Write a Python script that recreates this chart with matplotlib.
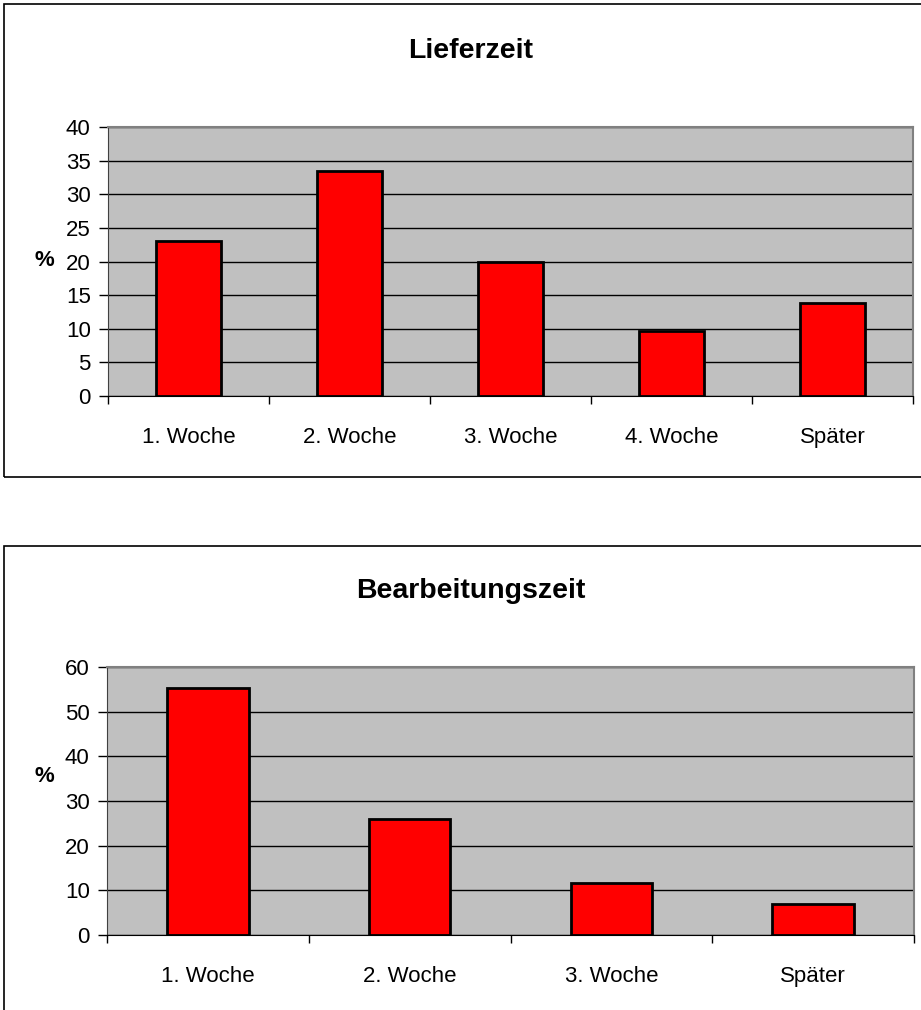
import matplotlib
matplotlib.use('Agg')
import matplotlib.pyplot as plt
from matplotlib.patches import Rectangle
from matplotlib.ticker import FixedLocator

plt.rcParams['font.family'] = ['Liberation Sans', 'DejaVu Sans']

# data
liefer_cats = ['1. Woche', '2. Woche', '3. Woche', '4. Woche', 'Später']
liefer_vals = [23.1, 33.4, 19.9, 9.6, 13.8]
liefer_ticks = [0, 5, 10, 15, 20, 25, 30, 35, 40]

bearb_cats = ['1. Woche', '2. Woche', '3. Woche', 'Später']
bearb_vals = [55.4, 25.9, 11.7, 6.9]
bearb_ticks = [0, 10, 20, 30, 40, 50, 60]

W, H = 921, 1010
fig = plt.figure(figsize=(W / 100, H / 100), dpi=100)


def px_axes(x0, y0, x1, y1):
    # pixel box (top-left origin) -> figure fraction
    return fig.add_axes([x0 / W, (H - y1) / H, (x1 - x0) / W, (y1 - y0) / H])


def frame(y0, y1):
    fig.patches.append(Rectangle((4 / W, (H - y1) / H), (W + 10) / W, (y1 - y0) / H,
                                 transform=fig.transFigure, fill=False,
                                 edgecolor='black', linewidth=1.2))


def bar_chart(ax, cats, vals, ticks, title, title_y, pct_y):
    n = len(cats)
    x = list(range(n))
    ax.set_facecolor('#c0c0c0')
    ax.bar(x, vals, width=0.405, color='#ff0000', edgecolor='black',
           linewidth=2, zorder=3)
    ax.set_xlim(-0.5, n - 0.5)
    ax.set_ylim(ticks[0], ticks[-1])
    ax.set_yticks(ticks)
    ax.yaxis.grid(True, color='black', linewidth=1, zorder=1)
    ax.set_axisbelow(True)
    ax.set_xticks(x)
    ax.set_xticklabels(cats, fontsize=16)
    ax.xaxis.set_minor_locator(FixedLocator([i - 0.5 for i in range(n + 1)]))
    ax.tick_params(axis='x', which='major', length=0, pad=22)
    ax.tick_params(axis='x', which='minor', length=6, width=1, color='black')
    ax.tick_params(axis='y', length=6.5, width=1, labelsize=16, pad=6)
    for s in ['top', 'right']:
        ax.spines[s].set_color('#808080')
        ax.spines[s].set_linewidth(1.5)
    ax.spines['left'].set_color('#404040')
    ax.spines['bottom'].set_color('black')
    fig.text(471 / W, 1 - title_y / H, title, ha='center', va='baseline',
             fontsize=20.5, fontweight='bold')
    fig.text(44 / W, 1 - pct_y / H, '%', ha='center', va='center',
             fontsize=16, fontweight='bold')


frame(4, 477)
frame(546, H + 10)

ax1 = px_axes(108, 127, 913, 396)
bar_chart(ax1, liefer_cats, liefer_vals, liefer_ticks, 'Lieferzeit', 58, 261)

ax2 = px_axes(107, 667, 914, 935)
bar_chart(ax2, bearb_cats, bearb_vals, bearb_ticks, 'Bearbeitungszeit', 598, 777)

fig.savefig('out.png', dpi=100)
